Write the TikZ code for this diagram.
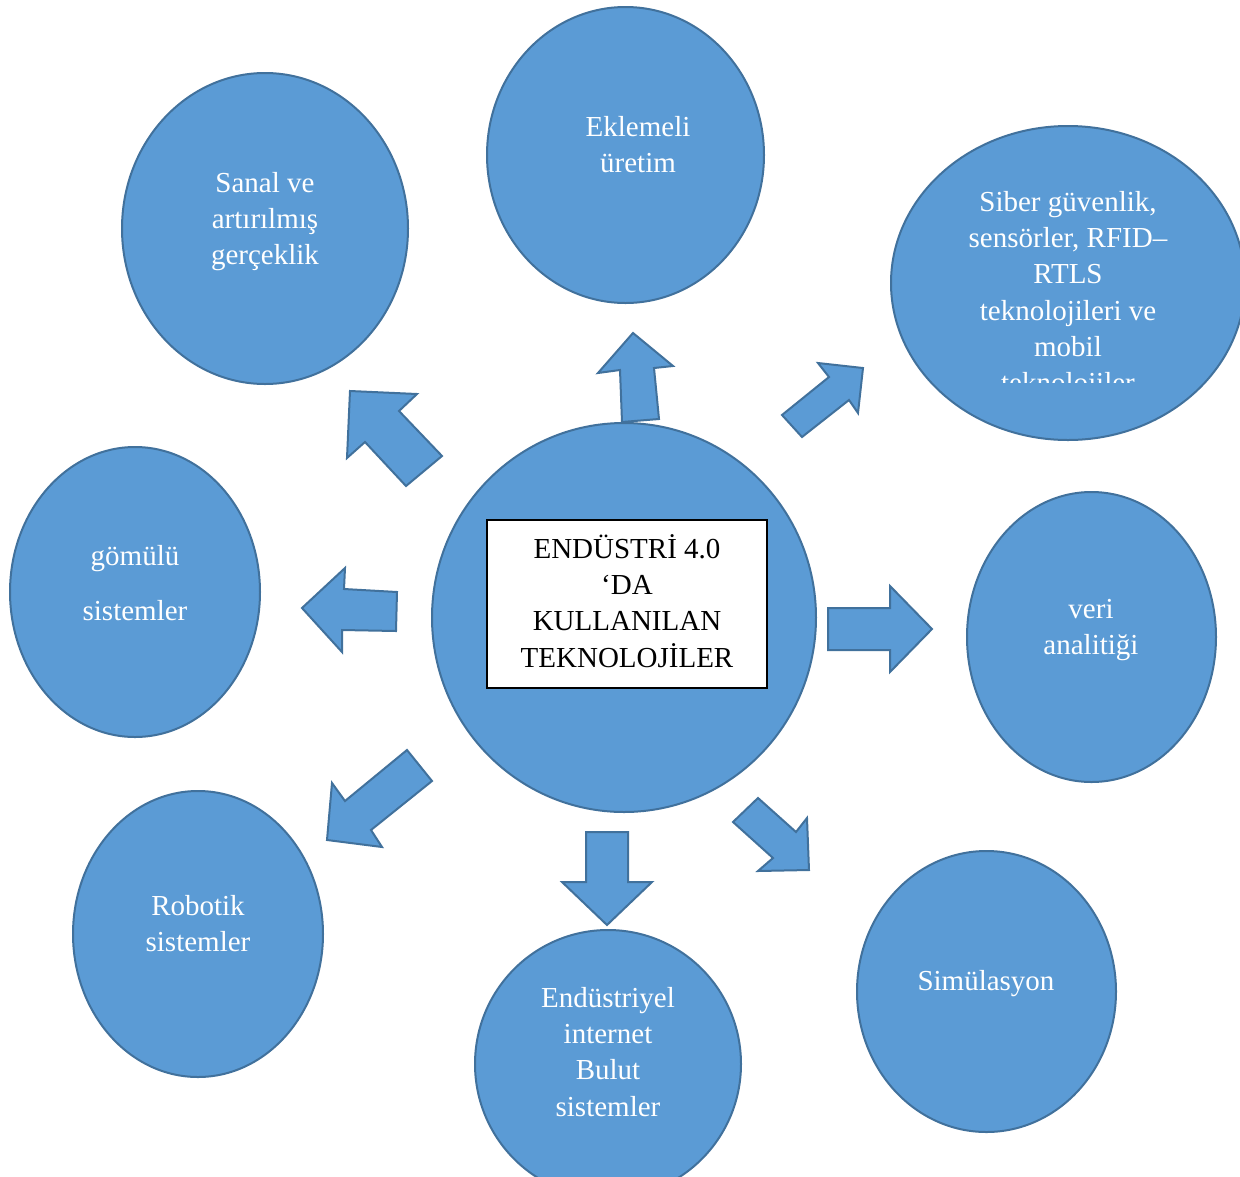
\documentclass[tikz,border=0pt]{standalone}
\usepackage{fontspec}
\setmainfont{Liberation Serif}
\usetikzlibrary{shapes.geometric}
\definecolor{bfill}{HTML}{5B9BD5}
\definecolor{bline}{HTML}{41719C}
\newcommand{\fstrut}{\rule{0pt}{28pt}}
\tikzset{
  ell/.style={ellipse, fill=bfill, draw=bline, line width=2pt, inner sep=0pt},
  barrow/.style={fill=bfill, draw=bline, line width=2pt, line join=miter},
  ltext/.style={anchor=north, inner sep=0pt, align=center, text=white,
    font=\fontsize{29}{36.3}\selectfont},
  btext/.style={anchor=north, inner sep=0pt, align=center, text=black,
    font=\fontsize{29}{36.3}\selectfont},
}
\begin{document}
\begin{tikzpicture}[x=1pt,y=-1pt]
\clip (0,0) rectangle (1240,1176);
\fill[white] (0,0) rectangle (1240,1176);
% ellipses
\node[ell, minimum width=384pt, minimum height=389pt] (center) at (624,617.5) {};
\node[ell, minimum width=277pt, minimum height=296pt] (ekl) at (625.5,155) {};
\node[ell, minimum width=286pt, minimum height=311pt] (sanal) at (265,228.5) {};
\node[ell, minimum width=354pt, minimum height=314pt] (siber) at (1068,283) {};
\node[ell, minimum width=250pt, minimum height=290pt] (gomulu) at (135,592) {};
\node[ell, minimum width=249pt, minimum height=290pt] (veri) at (1091.5,637) {};
\node[ell, minimum width=250pt, minimum height=286pt] (robot) at (198,934) {};
\node[ell, minimum width=266pt, minimum height=268pt] (ind) at (608,1064) {};
\node[ell, minimum width=259pt, minimum height=281pt] (sim) at (986.5,991.5) {};
% block arrows
\draw[barrow] (622,422) -- (620,370) -- (598,373) -- (633,333) -- (673,366) -- (654,368) -- (659,419) -- cycle;
\draw[barrow] (782,415) -- (802,437) -- (849,400) -- (858,413) -- (863,368) -- (818,363) -- (829,377) -- cycle;
\draw[barrow] (350,391) -- (417,394) -- (399,411) -- (442,456) -- (406,486) -- (365,442) -- (347,458) -- cycle;
\draw[barrow] (302,608) -- (345,568) -- (344,589) -- (397,592) -- (396,631) -- (342,630) -- (342,652) -- cycle;
\draw[barrow] (828,608) -- (890,608) -- (890,586) -- (932,629) -- (890,672) -- (890,650) -- (828,650) -- cycle;
\draw[barrow] (407,750) -- (432,781) -- (371,830) -- (382,847) -- (327,840) -- (332,783) -- (345,801) -- cycle;
\draw[barrow] (586,832) -- (628,832) -- (628,882) -- (652,882) -- (607,925) -- (562,882) -- (586,882) -- cycle;
\draw[barrow] (733,822) -- (758,798) -- (796,832) -- (807,818) -- (809,870) -- (758,871) -- (773,858) -- cycle;
% centre box
\node[draw=black, fill=white, line width=2pt, minimum width=280pt, minimum height=168pt, inner sep=0pt] (box) at (627,604) {};
\node[btext] (boxtext) at (627,530) {\fstrut ENDÜSTRİ 4.0\\‘DA\\KULLANILAN\\TEKNOLOJİLER};
% labels
\node[ltext] (tekl) at (638,108) {\fstrut Eklemeli\\üretim};
\node[ltext] (tsanal) at (265,164) {\fstrut Sanal ve\\artırılmış\\gerçeklik};
\begin{scope}
\clip (880,150) rectangle (1240,382);
\node[ltext] (tsiber) at (1068,183) {\fstrut Siber güvenlik,\\sensörler, RFID–\\RTLS\\teknolojileri ve\\mobil\\teknolojiler};
\end{scope}
\node[ltext] (tgomulu) at (135,537) {\fstrut gömülü\\[18.7pt]sistemler};
\node[ltext] (tveri) at (1091,590) {\fstrut veri\\analitiği};
\node[ltext] (trobot) at (198,887) {\fstrut Robotik\\sistemler};
\node[ltext] (tind) at (608,979) {\fstrut Endüstriyel\\internet\\Bulut\\sistemler};
\node[ltext] (tsim) at (986,962) {\fstrut Simülasyon};
\end{tikzpicture}
\end{document}
